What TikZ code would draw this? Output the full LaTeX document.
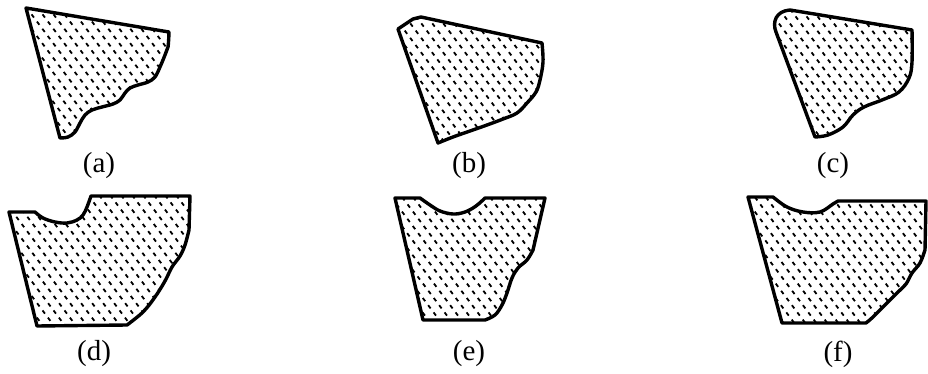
\documentclass[tikz,border=0pt]{standalone}
\usepackage{fontspec}
\setmainfont{Liberation Serif}
\tikzset{
  outline/.style={line width=3.4pt, line join=round, line cap=round},
  hatchline/.style={line width=1.8pt, dash pattern=on 4pt off 5pt},
  lab/.style={font=\fontsize{29}{29}\selectfont, inner sep=0pt}
}
\newcommand\hatchlines[4]{%
  \pgfmathsetmacro\hh{#4-#3+10}%
  \pgfmathsetmacro\xs{#1-0.75*\hh-10}%
  \pgfmathsetmacro\xn{\xs+11}%
  \foreach \x in {\xs,\xn,...,#2} \draw[hatchline] (\x,#3-5) -- ++(0.75*\hh,\hh);%
}
\def\shapeA{(26,8) -- (169,32) -- plot[smooth, tension=0.6] coordinates {(169,32) (168,47) (165,55) (160,67) (155,77) (148,82) (138,85) (130,88) (125,93) (120,100) (113,104) (102,107) (92,110) (85,115) (80,123) (75,132) (68,137) (60,138)} -- cycle}
\def\shapeB{(398,29) -- (413,19) -- (421,17) -- (542,43) -- plot[smooth, tension=0.6] coordinates {(542,43) (543,62) (540,80) (536,92) (527,103) (517,113) (503,119) (487,125) (470,131) (453,137) (438,143)} -- cycle}
\def\shapeC{(790,10) -- (912,30) -- plot[smooth, tension=0.6] coordinates {(912,30) (912,62) (909,78) (899,92) (882,100) (864,107) (853,115) (843,127) (828,135) (815,137)} -- (776,32) .. controls (772,22) and (776,11) .. (790,10) -- cycle}
\def\shapeD{(9,212) -- plot[smooth, tension=0.6] coordinates {(35,212) (43,218) (55,222) (67,223) (77,220) (83,215) (87,207) (91,196)} -- (190,196) -- plot[smooth, tension=0.6] coordinates {(189,230) (185,245) (180,256) (172,267) (165,281) (155,297) (143,312) (127,325)} -- (37,326) -- cycle}
\def\shapeE{(395,198) -- plot[smooth, tension=0.6] coordinates {(420,198) (430,205) (440,211) (453,214) (465,212) (476,206) (485,198)} -- (545,198) -- plot[smooth, tension=0.6] coordinates {(533,250) (527,260) (518,268) (512,278) (507,293) (502,305) (495,315) (485,320)} -- (423,320) -- cycle}
\def\shapeF{(748,197) -- plot[smooth, tension=0.6] coordinates {(773,197) (787,207) (803,212) (820,212) (833,204) (838,201)} -- (926,201) -- plot[smooth, tension=0.6] coordinates {(925,250) (920,263) (912,273) (906,284) (898,292) (887,303) (873,317) (866,323)} -- (782,323) -- cycle}
\begin{document}
\begin{tikzpicture}[x=1pt, y=-1pt]
  \useasboundingbox (0,0) rectangle (928,374);
  % hatching
  \begin{scope}\clip \shapeA; \hatchlines{20}{175}{5}{142} \end{scope}
  \begin{scope}\clip \shapeB; \hatchlines{395}{548}{14}{146} \end{scope}
  \begin{scope}\clip \shapeC; \hatchlines{770}{918}{7}{140} \end{scope}
  \begin{scope}\clip \shapeD; \hatchlines{5}{195}{193}{330} \end{scope}
  \begin{scope}\clip \shapeE; \hatchlines{390}{550}{195}{324} \end{scope}
  \begin{scope}\clip \shapeF; \hatchlines{745}{928}{195}{327} \end{scope}
  % outlines
  \draw[outline] \shapeA;
  \draw[outline] \shapeB;
  \draw[outline] \shapeC;
  \draw[outline] \shapeD;
  \draw[outline] \shapeE;
  \draw[outline] \shapeF;
  % labels
  \node[lab] (la) at (99,166) {(a)};
  \node[lab] (lb) at (469,166) {(b)};
  \node[lab] (lc) at (833,166) {(c)};
  \node[lab] (ld) at (94,354) {(d)};
  \node[lab] (le) at (469,354) {(e)};
  \node[lab] (lf) at (838,354) {(f)};
\end{tikzpicture}
\end{document}
